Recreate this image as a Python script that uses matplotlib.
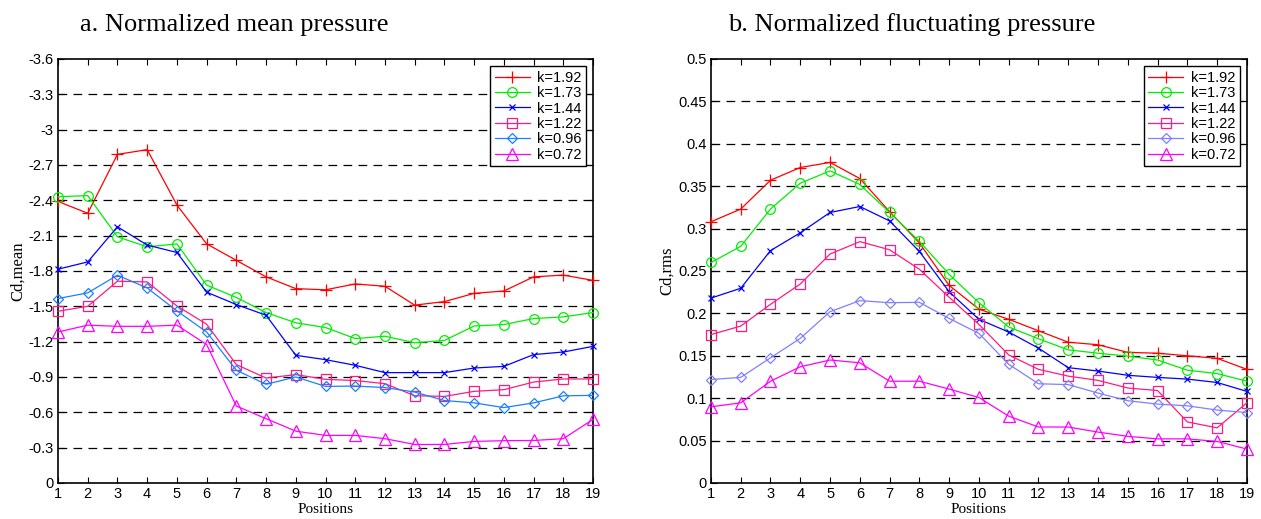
import matplotlib
matplotlib.use("Agg")
import matplotlib.pyplot as plt
import numpy as np

positions = np.arange(1, 20)
labels = ["k=1.92", "k=1.73", "k=1.44", "k=1.22", "k=0.96", "k=0.72"]

# a. normalized mean pressure (Cd,mean)
mean_192 = [-2.39, -2.29, -2.79, -2.83, -2.36, -2.03, -1.89, -1.75, -1.65, -1.64,
            -1.69, -1.67, -1.51, -1.54, -1.61, -1.63, -1.75, -1.765, -1.72]
mean_173 = [-2.43, -2.44, -2.09, -2.005, -2.03, -1.68, -1.575, -1.447, -1.36, -1.32,
            -1.226, -1.246, -1.19, -1.21, -1.333, -1.345, -1.396, -1.41, -1.447]
mean_144 = [-1.815, -1.877, -2.175, -2.02, -1.957, -1.62, -1.515, -1.424, -1.084, -1.047,
            -0.999, -0.937, -0.937, -0.937, -0.976, -0.99, -1.09, -1.112, -1.16]
mean_122 = [-1.458, -1.50, -1.713, -1.707, -1.503, -1.348, -1.005, -0.891, -0.92, -0.88,
            -0.87, -0.843, -0.741, -0.735, -0.778, -0.792, -0.857, -0.883, -0.883]
mean_096 = [-1.566, -1.614, -1.764, -1.656, -1.461, -1.282, -0.957, -0.838, -0.90, -0.82,
            -0.823, -0.81, -0.772, -0.70, -0.68, -0.64, -0.68, -0.74, -0.744]
mean_072 = [-1.282, -1.34, -1.33, -1.33, -1.34, -1.175, -0.653, -0.546, -0.44, -0.404,
            -0.404, -0.376, -0.327, -0.327, -0.353, -0.359, -0.361, -0.376, -0.54]

# b. normalized fluctuating pressure (Cd,rms)
rms_192 = [0.308, 0.323, 0.357, 0.372, 0.378, 0.359, 0.32, 0.283, 0.233, 0.205,
           0.193, 0.1795, 0.166, 0.163, 0.154, 0.153, 0.150, 0.147, 0.134]
rms_173 = [0.26, 0.279, 0.323, 0.3535, 0.368, 0.352, 0.319, 0.285, 0.246, 0.2126,
           0.184, 0.17, 0.157, 0.153, 0.1496, 0.145, 0.133, 0.129, 0.12]
rms_144 = [0.218, 0.2296, 0.274, 0.295, 0.319, 0.326, 0.309, 0.273, 0.2255, 0.193,
           0.178, 0.159, 0.136, 0.132, 0.127, 0.1245, 0.1225, 0.1185, 0.108]
rms_122 = [0.175, 0.185, 0.2107, 0.2346, 0.27, 0.2846, 0.275, 0.252, 0.219, 0.187,
           0.151, 0.134, 0.126, 0.121, 0.112, 0.109, 0.072, 0.065, 0.0945]
rms_096 = [0.122, 0.1245, 0.1476, 0.1705, 0.202, 0.215, 0.2126, 0.213, 0.194, 0.1764,
           0.14, 0.117, 0.116, 0.106, 0.097, 0.093, 0.091, 0.086, 0.083]
rms_072 = [0.0898, 0.0945, 0.12, 0.137, 0.145, 0.1417, 0.12, 0.12, 0.1107, 0.1008,
           0.0788, 0.066, 0.066, 0.060, 0.055, 0.052, 0.052, 0.049, 0.040]

markers = ["+", "o", "x", "s", "D", "^"]
msizes = [8, 7, 4, 7, 5.5, 8]
colors_a = ["#ff0000", "#00ee00", "#0000ff", "#ff1a80", "#1a80ff", "#ff00ff"]
colors_b = ["#ff0000", "#00ee00", "#0000ff", "#ff1a80", "#8080ff", "#ff00ff"]

sans = ["Liberation Sans", "DejaVu Sans"]
serif = ["Liberation Serif", "DejaVu Serif"]

fig = plt.figure(figsize=(12.61, 5.19), dpi=100)
ax1 = fig.add_axes([0.046, 0.0694, 0.4243, 0.817])
ax2 = fig.add_axes([0.5638, 0.0694, 0.425, 0.817])


def draw(ax, series, colors, yticks, ylim, ylabel, ticklabels):
    for vals, lbl, c, m, ms in zip(series, labels, colors, markers, msizes):
        ax.plot(positions, vals, color=c, marker=m, markersize=ms, lw=0.9,
                markerfacecolor="none", markeredgecolor=c, markeredgewidth=0.9,
                label=lbl, clip_on=False, zorder=3)
    ax.set_xlim(1, 19)
    ax.set_ylim(*ylim)
    ax.set_xticks(positions)
    ax.set_xticklabels([str(p) for p in positions], family=sans, fontsize=10.5)
    ax.set_yticks(yticks)
    ax.set_yticklabels(ticklabels, family=sans, fontsize=10.5)
    ax.tick_params(direction="in", top=True, right=True, length=4, width=0.8, pad=3)
    for y in yticks[1:-1]:
        ax.axhline(y, color="black", lw=0.9, dashes=(7, 5), zorder=1)
    for s in ax.spines.values():
        s.set_linewidth(1.2)
    ax.set_xlabel("Positions", family=serif, fontsize=11, labelpad=1)
    ax.set_ylabel(ylabel, family=serif, fontsize=12, labelpad=2)
    leg = ax.legend(loc="upper right", fancybox=False, edgecolor="black",
                    framealpha=1, prop={"family": sans, "size": 10.5},
                    handlelength=2.4, labelspacing=0.1, borderpad=0.3,
                    handletextpad=0.5, borderaxespad=0.5)
    leg.get_frame().set_linewidth(1.0)


yt_a = [0, -0.3, -0.6, -0.9, -1.2, -1.5, -1.8, -2.1, -2.4, -2.7, -3, -3.3, -3.6]
ytl_a = ["0", "-0.3", "-0.6", "-0.9", "-1.2", "-1.5", "-1.8", "-2.1", "-2.4",
         "-2.7", "-3", "-3.3", "-3.6"]
draw(ax1, [mean_192, mean_173, mean_144, mean_122, mean_096, mean_072], colors_a,
     yt_a, (0, -3.6), "Cd,mean", ytl_a)

yt_b = [0, 0.05, 0.1, 0.15, 0.2, 0.25, 0.3, 0.35, 0.4, 0.45, 0.5]
ytl_b = ["0", "0.05", "0.1", "0.15", "0.2", "0.25", "0.3", "0.35", "0.4", "0.45", "0.5"]
draw(ax2, [rms_192, rms_173, rms_144, rms_122, rms_096, rms_072], colors_b,
     yt_b, (0, 0.5), "Cd,rms", ytl_b)

fig.text(0.186, 0.952, "a. Normalized mean pressure", ha="center", va="center",
         family=serif, fontsize=19)
fig.text(0.723, 0.952, "b. Normalized fluctuating pressure", ha="center", va="center",
         family=serif, fontsize=19)

fig.savefig("out.png", dpi=100)
